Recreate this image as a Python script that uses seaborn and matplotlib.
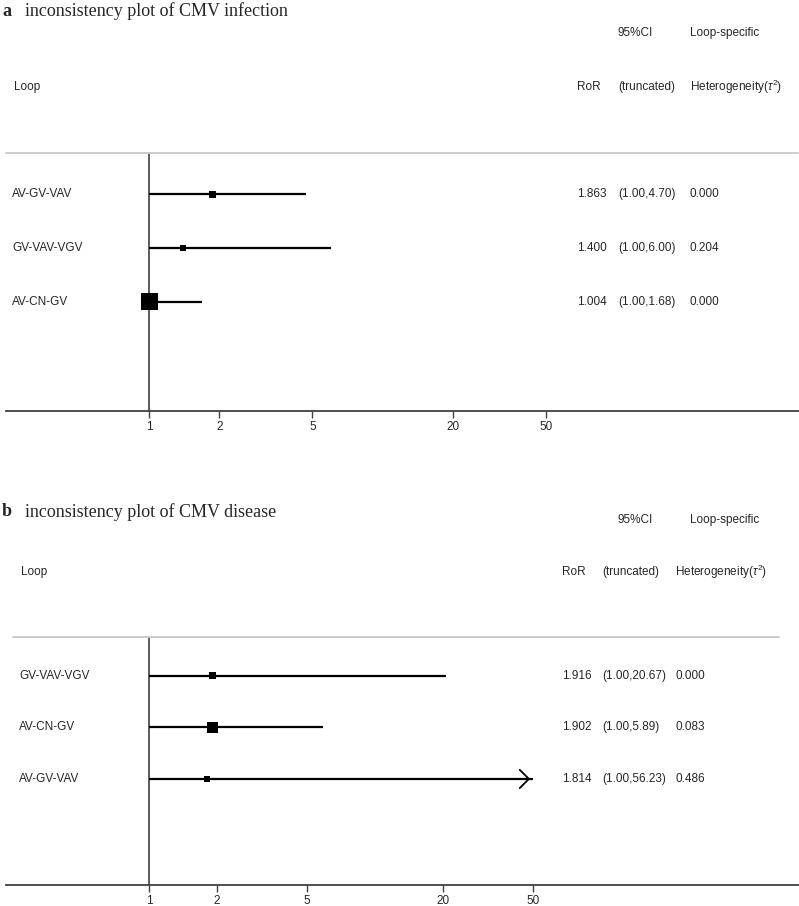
import matplotlib
matplotlib.use("Agg")
import matplotlib.pyplot as plt
import matplotlib.transforms as mtransforms
import numpy as np
import pandas as pd
import seaborn as sns

# panel a: CMV infection
loops_a = ["AV-GV-VAV", "GV-VAV-VGV", "AV-CN-GV"]
ror_a = [1.863, 1.400, 1.004]
lo_a = [1.00, 1.00, 1.00]
hi_a = [4.70, 6.00, 1.68]
tau2_a = [0.000, 0.204, 0.000]
weight_a = [7, 6, 17]

# panel b: CMV disease
loops_b = ["GV-VAV-VGV", "AV-CN-GV", "AV-GV-VAV"]
ror_b = [1.916, 1.902, 1.814]
lo_b = [1.00, 1.00, 1.00]
hi_b = [20.67, 5.89, 56.23]
tau2_b = [0.000, 0.083, 0.486]
weight_b = [7, 11, 6]

ticks = [1, 2, 5, 20, 50]
truncate_at = 50

W, H = 799, 906

sns.set_theme(style="white")
plt.rcParams["font.family"] = ["Liberation Sans", "DejaVu Sans"]
plt.rcParams["mathtext.fontset"] = "custom"
plt.rcParams["mathtext.rm"] = "Liberation Sans"
plt.rcParams["mathtext.it"] = "Liberation Sans:italic"

fig = plt.figure(figsize=(W / 100, H / 100), dpi=100)


def fx(px):
    return px / W


def fy(py):
    return 1 - py / H


def panel(letter, title, loops, ror, lo, hi, tau2, weight, geo):
    top, bottom, rows_y, xl, xr, gray_x, cols, hdr, title_y = geo
    ax = fig.add_axes([fx(6), fy(bottom), fx(793), fy(top) - fy(bottom)])
    df = pd.DataFrame({"loop": loops, "ror": ror, "lo": lo, "hi": hi,
                       "tau2": tau2, "w": weight})
    df["row"] = np.arange(len(df))
    df["hi_plot"] = np.minimum(df["hi"], truncate_at)

    ax.set_xscale("log")
    ax.axvline(1, color="#303030", lw=1.1, zorder=1)
    ax.hlines(df["row"], df["lo"], df["hi_plot"], color="black", lw=1.6, zorder=2)
    for _, r in df[df["hi"] > truncate_at].iterrows():
        ax.annotate("", xy=(truncate_at, r["row"]), xytext=(truncate_at * 0.9, r["row"]),
                    arrowprops=dict(arrowstyle="->,head_length=0.55,head_width=0.55",
                                    color="black", lw=1.3, mutation_scale=12))
    sns.scatterplot(data=df, x="ror", y="row", marker="s", color="black",
                    s=(df["w"] * 0.72) ** 2, edgecolor="black", linewidth=0,
                    legend=False, ax=ax, zorder=3)

    ax.set_xlim(xl, xr)
    ax.set_ylim(rows_y[0], rows_y[1])
    ax.set_xticks(ticks)
    ax.set_xticklabels([str(t) for t in ticks])
    ax.minorticks_off()
    ax.set_yticks([])
    ax.set_xlabel("")
    ax.set_ylabel("")
    for s in ["left", "right", "top"]:
        ax.spines[s].set_visible(False)
    ax.spines["bottom"].set_color("#404040")
    ax.spines["bottom"].set_linewidth(1.3)
    ax.tick_params(axis="x", direction="out", length=5, width=1, color="#404040",
                   labelsize=8.5, pad=2, bottom=True)
    ax.plot([fx(gray_x[0]), fx(gray_x[1])], [fy(top), fy(top)], color="#c8c8c8",
            lw=1.3, transform=fig.transFigure, clip_on=False)

    # row texts
    tr = mtransforms.blended_transform_factory(fig.transFigure, ax.transData)
    for _, r in df.iterrows():
        ax.text(fx(cols[0]), r["row"], r["loop"], transform=tr, va="center", fontsize=8.5)
        ax.text(fx(cols[1]), r["row"], f"{r['ror']:.3f}", transform=tr, va="center", fontsize=8.5)
        ax.text(fx(cols[2]), r["row"], f"({r['lo']:.2f},{r['hi']:.2f})", transform=tr,
                va="center", fontsize=8.5)
        ax.text(fx(cols[3]), r["row"], f"{r['tau2']:.3f}", transform=tr, va="center", fontsize=8.5)

    # headers
    y1, y2 = hdr
    fig.text(fx(617), fy(y1), "95%CI", va="center", fontsize=8.5)
    fig.text(fx(690), fy(y1), "Loop-specific", va="center", fontsize=8.5)
    fig.text(fx(cols[0] + 2), fy(y2), "Loop", va="center", fontsize=8.5)
    fig.text(fx(cols[1]), fy(y2), "RoR", va="center", fontsize=8.5)
    fig.text(fx(cols[2]), fy(y2), "(truncated)", va="center", fontsize=8.5)
    fig.text(fx(cols[3]), fy(y2), r"Heterogeneity($\tau^2$)", va="center", fontsize=8.5)

    fig.text(fx(2), fy(title_y), letter, va="center", fontsize=13, fontweight="bold",
             family="Liberation Serif")
    fig.text(fx(25), fy(title_y), title, va="center", fontsize=13,
             family="Liberation Serif")
    return ax


panel("a", "inconsistency plot of CMV infection", loops_a, ror_a, lo_a, hi_a, tau2_a, weight_a,
      (153, 411, (4.02, -0.76), 10 ** (-143 / 233.7), 10 ** (650 / 233.7), (6, 798),
       (12, 577, 618, 690), (33, 87), 11))
panel("b", "inconsistency plot of CMV disease", loops_b, ror_b, lo_b, hi_b, tau2_b, weight_b,
      (637, 885, (4.06, -0.757), 10 ** (-143 / 226), 10 ** (650 / 226), (13, 779),
       (19, 562, 602, 675), (520, 572), 512))

fig.savefig("out.png", dpi=100)
